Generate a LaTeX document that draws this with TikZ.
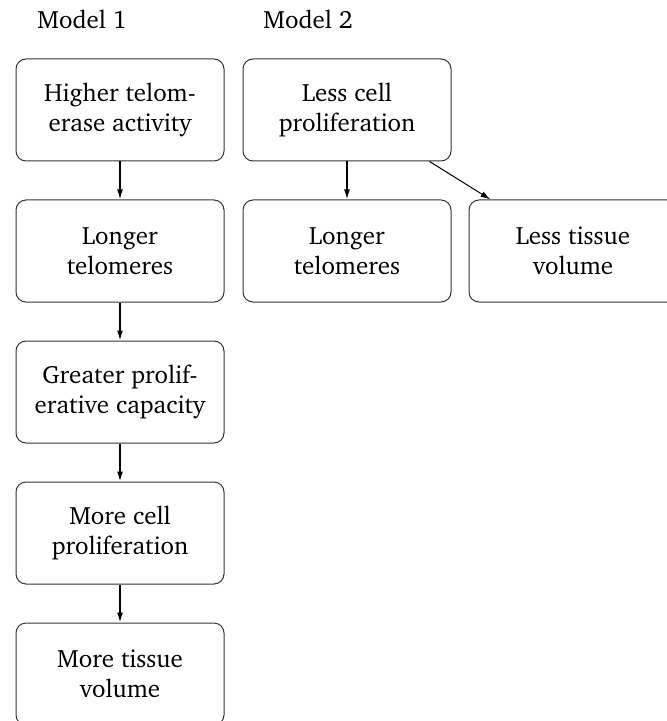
\documentclass[tikz,border=0pt]{standalone}
\usepackage[T1]{fontenc}
\usepackage{charter}
\usepackage{tikz}
\usetikzlibrary{arrows.meta}

\begin{document}
\begin{tikzpicture}[
  x=0.5pt,y=-0.5pt,
  font=\fontsize{12.5}{15}\selectfont,
  stage/.style={rectangle,draw=black!80,line width=0.5pt,rounded corners=5pt,
    minimum width=104pt,minimum height=51pt,align=center,inner sep=2pt},
  head/.style={anchor=base west,inner sep=0pt},
  link/.style={->,line width=0.75pt},
  >={Latex[length=5pt,width=3pt]}]

\useasboundingbox (0,0) rectangle (667,721);

% model 1
\node[head] (m1) at (37,28.5) {Model 1};
\node[stage] (tel)  at (120,110) {Higher telom-\\erase activity};
\node[stage] (lng)  at (120,251) {Longer\\telomeres};
\node[stage] (cap)  at (120,392) {Greater prolif-\\erative capacity};
\node[stage] (pro)  at (120,533) {More cell\\proliferation};
\node[stage] (vol)  at (120,674) {More tissue\\volume};

% model 2
\node[head] (m2) at (263,28.5) {Model 2};
\node[stage] (lpro) at (347,110) {Less cell\\proliferation};
\node[stage] (llng) at (347,251) {Longer\\telomeres};
\node[stage] (lvol) at (573,251) {Less tissue\\volume};

\draw[link] (tel)--(lng);
\draw[link] (lng)--(cap);
\draw[link] (cap)--(pro);
\draw[link] (pro)--(vol);
\draw[link] (lpro)--(llng);
\draw[link,line width=0.5pt] (lpro)--(lvol);
\end{tikzpicture}
\end{document}
